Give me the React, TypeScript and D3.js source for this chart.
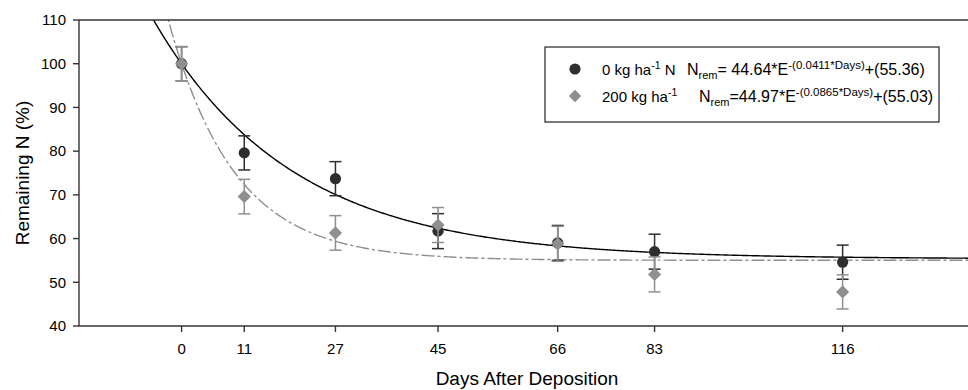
import React from "react";
import * as d3 from "d3";

const days = [0, 11, 27, 45, 66, 83, 116];
const n0Mean = [100, 79.6, 73.7, 61.7, 59.0, 57.0, 54.6];
const n0Err = [3.9, 3.9, 3.9, 4.0, 4.0, 4.0, 3.9];
const n200Mean = [100, 69.6, 61.3, 63.1, 58.8, 51.8, 47.8];
const n200Err = [3.9, 3.95, 3.95, 4.0, 4.0, 4.0, 3.9];
const yTicks = [40, 50, 60, 70, 80, 90, 100, 110];
// fitted model parameters: N = a*exp(-k*Days) + c
const fitA = [44.64, 44.97];
const fitK = [0.0411, 0.0865];
const fitC = [55.36, 55.03];

const W = 968;
const H = 390;
const left = 79;
const right = 968;
const top = 20;
const bottom = 326;
const FONT = "'Liberation Sans', Arial, sans-serif";

export default function App() {
  const x = d3.scaleLinear().domain([-18, 138]).range([left, right]);
  const y = d3.scaleLinear().domain([40, 110]).range([bottom, top]);
  const grid = d3.range(-18, 138.01, 0.25);
  const curve = (s: number) =>
    d3
      .line<number>()
      .x((d) => x(d))
      .y((d) => y(fitA[s] * Math.exp(-fitK[s] * d) + fitC[s]))(grid) || "";

  const dark = "#2e2e2e";
  const gray = "#8f8f8f";
  const cap = 6;

  const errBars = (means: number[], errs: number[], color: string) =>
    days.map((d, i) => {
      const cx = x(d);
      const y1 = y(means[i] + errs[i]);
      const y2 = y(means[i] - errs[i]);
      return (
        <g key={"e" + color + i} stroke={color} strokeWidth={1.5}>
          <line x1={cx} x2={cx} y1={y1} y2={y2} />
          <line x1={cx - cap} x2={cx + cap} y1={y1} y2={y1} />
          <line x1={cx - cap} x2={cx + cap} y1={y2} y2={y2} />
        </g>
      );
    });

  const diamond = (cx: number, cy: number, r: number) =>
    `M${cx},${cy - r}L${cx + r},${cy}L${cx},${cy + r}L${cx - r},${cy}Z`;

  return (
    <svg
      width={W}
      height={H}
      style={{ position: "absolute", left: 0, top: 0, background: "#fff" }}
      fontFamily={FONT}
    >
      <defs>
        <clipPath id="plot">
          <rect x={left} y={top} width={right - left} height={bottom - top} />
        </clipPath>
      </defs>

      {/* curves */}
      <g clipPath="url(#plot)" fill="none">
        <path d={curve(1)} stroke={gray} strokeWidth={1.4} strokeDasharray="13,3,3,3" />
        <path d={curve(0)} stroke="#000" strokeWidth={1.4} />
      </g>

      {/* series 0 */}
      {errBars(n0Mean, n0Err, dark)}
      {days.map((d, i) => (
        <circle key={"c" + i} cx={x(d)} cy={y(n0Mean[i])} r={5.6} fill={dark} />
      ))}
      {/* series 200 */}
      {errBars(n200Mean, n200Err, gray)}
      {days.map((d, i) => (
        <path key={"d" + i} d={diamond(x(d), y(n200Mean[i]), 6.6)} fill={gray} />
      ))}

      {/* axes */}
      <g stroke="#333" strokeWidth={1.4}>
        <line x1={left} x2={right} y1={top} y2={top} />
        <line x1={left} x2={right} y1={bottom} y2={bottom} />
        <line x1={left} x2={left} y1={top} y2={bottom} />
        {yTicks.map((t) => (
          <line key={"yt" + t} x1={left - 6} x2={left} y1={y(t)} y2={y(t)} />
        ))}
        {days.map((t) => (
          <line key={"xt" + t} x1={x(t)} x2={x(t)} y1={bottom} y2={bottom + 6} />
        ))}
      </g>
      <g fontSize={15} fill="#000">
        {yTicks.map((t) => (
          <text key={"yl" + t} x={left - 13} y={y(t) + 5.3} textAnchor="end">
            {t}
          </text>
        ))}
        {days.map((t) => (
          <text key={"xl" + t} x={x(t)} y={354} textAnchor="middle">
            {t}
          </text>
        ))}
      </g>
      <text x={527} y={385} fontSize={19} textAnchor="middle">
        Days After Deposition
      </text>
      <text
        transform={`translate(29,${(top + bottom) / 2}) rotate(-90)`}
        fontSize={19}
        textAnchor="middle"
      >
        Remaining N (%)
      </text>

      {/* legend */}
      <rect x={545} y={47} width={394} height={75} fill="#fff" stroke="#222" strokeWidth={1.2} />
      <circle cx={575} cy={69} r={5.6} fill={dark} />
      <path d={diamond(575, 96, 6.2)} fill={gray} />
      <g fontSize={15} fill="#000">
        <text x={602} y={75}>
          0 kg ha
          <tspan fontSize={10.5} dy={-6}>-1</tspan>
          <tspan dy={6}> N</tspan>
        </text>
        <text x={602} y={102}>
          200 kg ha
          <tspan fontSize={10.5} dy={-6}>-1</tspan>
        </text>
      </g>
      <g fontSize={16} fill="#000">
        <text x={687} y={75}>
          N
          <tspan fontSize={11} dy={4}>rem</tspan>
          <tspan dy={-4}>= 44.64*E</tspan>
          <tspan fontSize={11.5} dy={-6.5}>-(0.0411*Days)</tspan>
          <tspan dy={6.5}>+(55.36)</tspan>
        </text>
        <text x={699} y={102}>
          N
          <tspan fontSize={11} dy={4}>rem</tspan>
          <tspan dy={-4}>=44.97*E</tspan>
          <tspan fontSize={11.5} dy={-6.5}>-(0.0865*Days)</tspan>
          <tspan dy={6.5}>+(55.03)</tspan>
        </text>
      </g>
    </svg>
  );
}
